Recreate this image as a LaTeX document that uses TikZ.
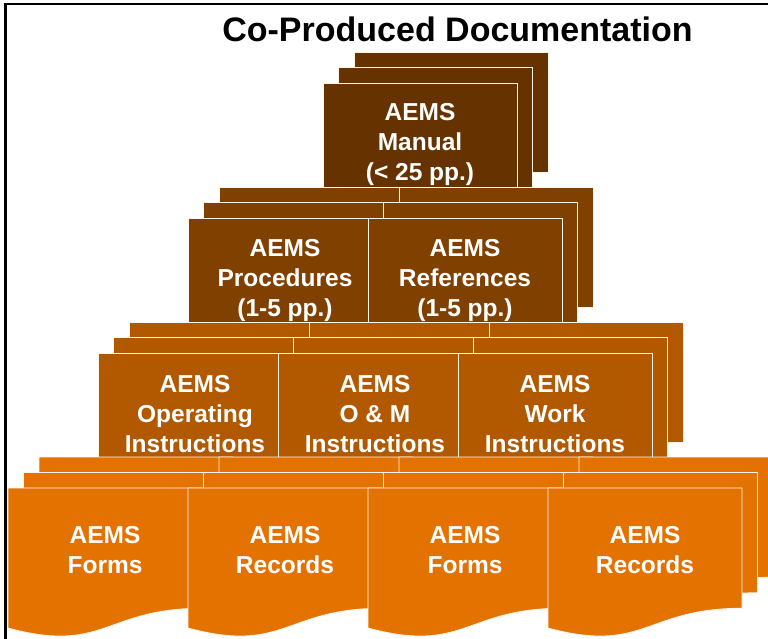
\documentclass[tikz,border=0pt]{standalone}
\usepackage{fontspec}
\setmainfont{Liberation Sans}
\definecolor{cA}{RGB}{102,51,0}
\definecolor{cB}{RGB}{128,64,0}
\definecolor{cC}{RGB}{178,89,0}
\definecolor{cD}{RGB}{228,114,0}
\newcommand\pgpage[3]{\filldraw[pg,fill=#3] (#1,#2) rectangle ++(194,120);}
\newcommand\docpg[3]{\begin{scope}[shift={(#1,#2)}]\filldraw[pg,fill=#3] (0,0) -- (194,0) -- (194,120.3) .. controls (97,120.3) and (97,166.1) .. (0,140.1) -- cycle;\end{scope}}
\begin{document}
\begin{tikzpicture}[x=1pt,y=-1pt,
  pg/.style={draw=white!92!orange, line width=0.9pt},
  lbl/.style={text=white, font=\fontsize{24.5}{30}\selectfont\bfseries, align=center, inner sep=0pt}]
\useasboundingbox (0,0) rectangle (768,639);
\fill[white] (0,0) rectangle (768,639);
% level 1
\pgpage{354}{52}{cA}
\pgpage{338.5}{67.5}{cA}
\pgpage{323}{83}{cA}
\node[lbl] (manual) at (420,144.5) {AEMS\\Manual\\(< 25 pp.)};
% level 2
\foreach \i in {0,1} {\pgpage{219+180*\i}{187}{cB}}
\foreach \i in {0,1} {\pgpage{203.5+180*\i}{202.5}{cB}}
\foreach \i in {0,1} {\pgpage{188+180*\i}{218}{cB}}
\node[lbl] (proc) at (285,280.5) {AEMS\\Procedures\\(1-5 pp.)};
\node[lbl] (refs) at (465,280.5) {AEMS\\References\\(1-5 pp.)};
% level 3
\foreach \i in {0,1,2} {\pgpage{129+180*\i}{322}{cC}}
\foreach \i in {0,1,2} {\pgpage{113.5+180*\i}{337.5}{cC}}
\foreach \i in {0,1,2} {\pgpage{98+180*\i}{353}{cC}}
\node[lbl] (opi) at (195,414.5) {AEMS\\Operating\\Instructions};
\node[lbl] (omi) at (375,414.5) {AEMS\\O \& M\\Instructions};
\node[lbl] (wi) at (555,414.5) {AEMS\\Work\\Instructions};
% level 4
\foreach \i in {0,1,2,3} {\docpg{39+180*\i}{457}{cD}}
\foreach \i in {0,1,2,3} {\docpg{23.5+180*\i}{472.5}{cD}}
\foreach \i in {0,1,2,3} {\docpg{8+180*\i}{488}{cD}}
\node[lbl] (formsA) at (105,550.5) {AEMS\\Forms};
\node[lbl] (recA) at (285,550.5) {AEMS\\Records};
\node[lbl] (formsB) at (465,550.5) {AEMS\\Forms};
\node[lbl] (recB) at (645,550.5) {AEMS\\Records};
% title
\node[font=\fontsize{34}{40}\selectfont\bfseries, anchor=base, inner sep=0pt] (title) at (457.5,41.7) {Co-Produced Documentation};
% frame
\draw[line width=2.5pt] (5.5,639) -- (5.5,4) -- (768,4);
\end{tikzpicture}
\end{document}
